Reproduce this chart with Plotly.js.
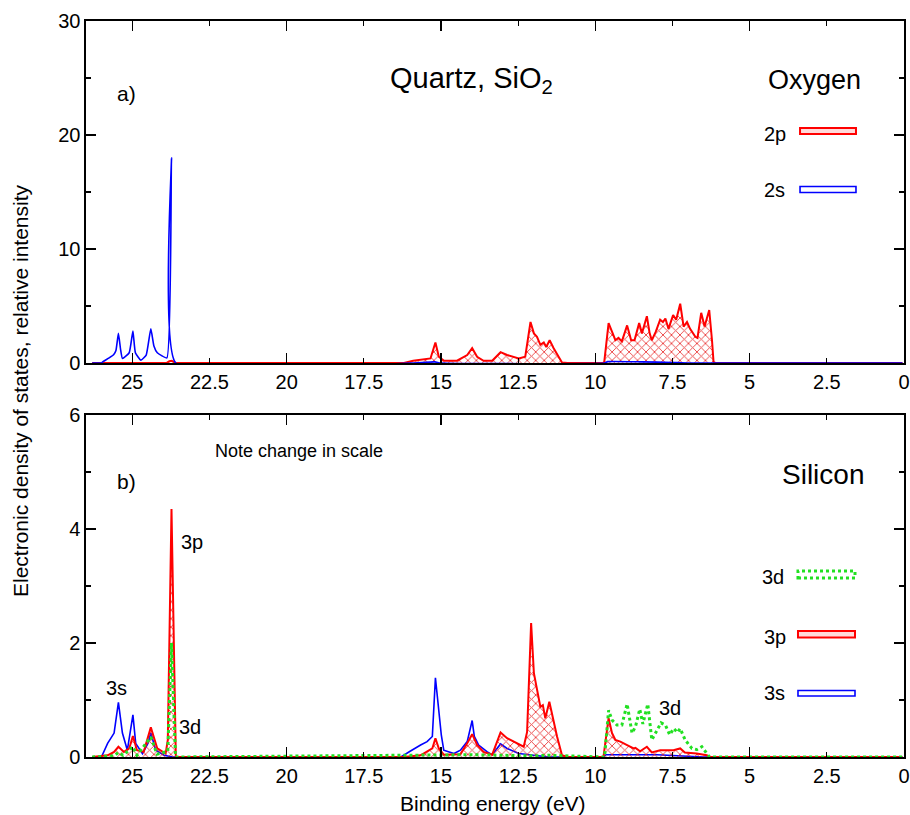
<!DOCTYPE html>
<html>
<head>
<meta charset="utf-8">
<script src="https://cdn.plot.ly/plotly-3.0.1.min.js"></script>
<style>html,body{margin:0;padding:0;background:#fff;}#chart{width:910px;height:815px;}</style>
</head>
<body>
<div id="chart"></div>
<script>
// ---- Panel a) Quartz SiO2, Oxygen ----
const o2pE = [26.3, 23.9, 23.8, 23.72, 23.6, 16.2, 15.9, 15.34, 15.18, 15.07, 14.9, 14.48, 14.15, 13.99, 13.83, 13.62, 13.34, 13.07, 12.86, 12.48, 12.27, 12.1, 11.99, 11.89, 11.78, 11.67, 11.59, 11.48, 11.35, 11.22, 11.08, 10.9, 9.75, 9.71, 9.57, 9.46, 9.35, 9.25, 9.14, 8.97, 8.84, 8.73, 8.58, 8.49, 8.33, 8.24, 8.17, 8.04, 7.9, 7.81, 7.73, 7.63, 7.48, 7.38, 7.25, 7.14, 7.03, 6.93, 6.76, 6.69, 6.57, 6.46, 6.31, 6.22, 6.17, 6.1, 0.05];
const o2pV = [0, 0, 0.15, 0.2, 0, 0, 0.2, 0.4, 1.8, 0.55, 0.2, 0.2, 0.7, 1.3, 0.55, 0.2, 0.2, 0.95, 0.7, 0.4, 0.55, 3.6, 2.6, 2.3, 1.6, 1.8, 1.4, 2.0, 1.3, 0.7, 0.05, 0, 0, 0.1, 3.5, 2.75, 2.0, 2.2, 1.9, 3.3, 2.0, 2.0, 3.5, 2.6, 4.1, 2.6, 2.0, 2.75, 3.8, 3.6, 3.9, 3.0, 4.2, 3.8, 5.2, 3.2, 3.6, 3.0, 2.3, 2.2, 4.4, 3.2, 4.65, 2.0, 0.1, 0, 0];

const o2sE = [26.3, 26.0, 25.96, 25.75, 25.6, 25.53, 25.45, 25.38, 25.32, 25.1, 24.98, 24.9, 24.72, 24.55, 24.4, 24.3, 24.19, 23.88, 23.73, 23.59, 16.0, 15.2, 15.0, 9.7, 9.6, 8.5, 7.5, 7.0, 0.05];
const o2sV = [0, 0, 0.1, 0.45, 0.75, 1.1, 2.6, 1.2, 0.4, 0.9, 2.8, 0.9, 0.25, 0.7, 3.0, 1.5, 0.9, 0.45, 18.0, 0, 0, 0.1, 0, 0, 0.12, 0.1, 0.05, 0, 0];

// ---- Panel b) Silicon ----
const si3sE = [26.3, 26.0, 25.8, 25.59, 25.45, 25.32, 25.16, 24.98, 24.89, 24.67, 24.49, 24.4, 24.24, 23.97, 23.7, 16.3, 16.0, 15.8, 15.66, 15.45, 15.28, 15.18, 15.07, 14.99, 14.91, 14.58, 14.37, 14.15, 13.99, 13.92, 13.78, 13.5, 13.34, 13.07, 12.86, 12.48, 12.0, 11.5, 9.75, 9.65, 8.0, 7.0, 6.5, 0.05];
const si3sV = [0, 0, 0.24, 0.42, 0.96, 0.42, 0.12, 0.74, 0.24, 0.06, 0.24, 0.42, 0.12, 0.03, 0, 0, 0.1, 0.17, 0.21, 0.27, 0.36, 1.39, 0.77, 0.39, 0.12, 0.06, 0.12, 0.27, 0.64, 0.36, 0.21, 0.09, 0.04, 0.23, 0.15, 0.06, 0.03, 0, 0, 0.04, 0.04, 0.02, 0, 0];

const si3pE = [26.3, 25.8, 25.59, 25.45, 25.27, 25.1, 24.98, 24.85, 24.63, 24.4, 24.19, 23.92, 23.85, 23.73, 23.59, 16.2, 15.66, 15.28, 15.18, 15.07, 14.91, 14.37, 14.15, 13.99, 13.83, 13.62, 13.34, 13.07, 12.86, 12.54, 12.32, 12.21, 12.08, 11.99, 11.89, 11.78, 11.7, 11.62, 11.49, 11.37, 11.24, 11.08, 10.9, 9.75, 9.73, 9.57, 9.46, 9.35, 9.19, 8.97, 8.76, 8.7, 8.55, 8.33, 8.17, 7.9, 7.47, 7.25, 7.1, 6.72, 6.39, 6.28, 0.05];
const si3pV = [0, 0.03, 0.09, 0.18, 0.09, 0.15, 0.37, 0.12, 0.09, 0.52, 0.15, 0.06, 0.3, 4.35, 0, 0, 0.03, 0.15, 0.33, 0.15, 0.04, 0.05, 0.24, 0.4, 0.21, 0.09, 0.04, 0.43, 0.33, 0.24, 0.18, 0.44, 2.35, 1.47, 1.18, 0.88, 0.91, 0.68, 0.97, 0.65, 0.36, 0.03, 0, 0, 0.03, 0.68, 0.42, 0.3, 0.27, 0.21, 0.15, 0.16, 0.1, 0.18, 0.08, 0.12, 0.12, 0.15, 0.08, 0.06, 0.03, 0, 0];

const si3dE = [26.3, 25.6, 25.45, 25.3, 24.98, 24.85, 24.4, 24.2, 23.85, 23.73, 23.6, 15.2, 14.0, 13.0, 12.0, 11.5, 10.0, 9.7, 9.57, 9.46, 9.3, 9.14, 8.97, 8.81, 8.7, 8.56, 8.46, 8.3, 8.17, 8.06, 7.87, 7.73, 7.59, 7.46, 7.34, 7.25, 7.09, 6.87, 6.71, 6.55, 6.39, 6.3, 0.05];
const si3dV = [0, 0.02, 0.08, 0.03, 0.18, 0.03, 0.35, 0.05, 0.1, 2.0, 0, 0.03, 0.04, 0.03, 0.02, 0.03, 0, 0, 0.82, 0.65, 0.56, 0.56, 0.93, 0.42, 0.53, 0.84, 0.58, 0.93, 0.3, 0.42, 0.6, 0.56, 0.39, 0.5, 0.43, 0.5, 0.3, 0.15, 0.13, 0.18, 0.06, 0, 0];

const xRange = [26.5, 0];
const topRange = [0, 30];
const botRange = [0, 6];

const RED = '#ff0000', BLUE = '#0000ff', GREEN = '#22e022';
const FONT = 'Liberation Sans, Arial, Helvetica, sans-serif';
const hatch = {shape: 'x', fgcolor: 'rgba(230,30,30,0.85)', bgcolor: 'rgba(255,255,255,0)', size: 6, solidity: 0.28};

const traces = [
  {x: o2pE, y: o2pV, xaxis: 'x', yaxis: 'y', type: 'scatter', mode: 'lines', fill: 'tozeroy',
   fillpattern: hatch, fillcolor: 'rgba(255,255,255,0)', line: {color: RED, width: 2}},
  {x: o2sE, y: o2sV, xaxis: 'x', yaxis: 'y', type: 'scatter', mode: 'lines', line: {color: BLUE, width: 1.6, shape: 'spline', smoothing: 0.4}},
  {x: si3sE, y: si3sV, xaxis: 'x2', yaxis: 'y2', type: 'scatter', mode: 'lines', line: {color: BLUE, width: 1.6}},
  {x: si3pE, y: si3pV, xaxis: 'x2', yaxis: 'y2', type: 'scatter', mode: 'lines', fill: 'tozeroy',
   fillpattern: hatch, fillcolor: 'rgba(255,255,255,0)', line: {color: RED, width: 2}},
  {x: si3dE, y: si3dV, xaxis: 'x2', yaxis: 'y2', type: 'scatter', mode: 'lines', line: {color: GREEN, width: 3, dash: 'dot'}},
  // carriers for long-tick overlay axes
  {x: [], y: [], xaxis: 'x3', yaxis: 'y', type: 'scatter', mode: 'lines', hoverinfo: 'skip'},
  {x: [], y: [], xaxis: 'x4', yaxis: 'y2', type: 'scatter', mode: 'lines', hoverinfo: 'skip'}
];

function xAx(anchor) {
  return {anchor: anchor, domain: [0, 1], range: xRange, autorange: false, tick0: 0, dtick: 2.5,
    ticks: 'inside', ticklen: 5, tickwidth: 1.3, tickcolor: '#000', showline: true, linecolor: '#000', linewidth: 1.6,
    mirror: 'ticks', showgrid: false, zeroline: false, tickfont: {family: FONT, size: 20, color: '#000'}};
}
function xLong(anchor, over) {
  return {anchor: anchor, overlaying: over, domain: [0, 1], range: xRange, autorange: false, tick0: 0, dtick: 5,
    ticks: 'inside', ticklen: 10, tickwidth: 1.3, tickcolor: '#000', showline: false, mirror: 'ticks',
    showgrid: false, zeroline: false, showticklabels: false};
}
function yAx(anchor, range, dtick, minor, domain) {
  return {anchor: anchor, domain: domain, range: range, autorange: false, tick0: 0, dtick: dtick,
    ticks: 'inside', ticklen: 10, tickwidth: 1.3, tickcolor: '#000', showline: true, linecolor: '#000', linewidth: 1.6,
    mirror: 'ticks', showgrid: false, zeroline: false, tickfont: {family: FONT, size: 20, color: '#000'},
    minor: {dtick: minor, ticks: 'inside', ticklen: 5, tickwidth: 1.3, tickcolor: '#000', showgrid: false}};
}

function txt(x, y, s, size, extra) {
  return Object.assign({xref: 'paper', yref: 'paper', x: x, y: y, text: s, showarrow: false,
    xanchor: 'center', yanchor: 'middle', font: {family: FONT, size: size, color: '#000'}}, extra || {});
}

const annotations = [
  txt(0.050, 0.902, 'a)', 21),
  txt(0.4707, 0.9198, 'Quartz, SiO<sub>2</sub>', 29),
  txt(0.891, 0.920, 'Oxygen', 27),
  txt(0.842, 0.8465, '2p', 20),
  txt(0.842, 0.7704, '2s', 20),
  txt(0.050, 0.375, 'b)', 21),
  txt(0.2604, 0.4158, 'Note change in scale', 18),
  txt(0.901, 0.3845, 'Silicon', 28),
  txt(0.840, 0.2446, '3d', 20),
  txt(0.842, 0.163, '3p', 20),
  txt(0.842, 0.087, '3s', 20),
  txt(0.129, 0.2925, '3p', 20),
  txt(0.0375, 0.0933, '3s', 20),
  txt(0.127, 0.0408, '3d', 20),
  txt(0.714, 0.0666, '3d', 20),
  txt(0.4976, -0.0625, 'Binding energy (eV)', 21),
  txt(-0.0807, 0.4986, 'Electronic density of states, relative intensity', 21, {textangle: -90})
];

const shapes = [
  {type: 'rect', xref: 'paper', yref: 'paper', x0: 0.8729, x1: 0.9413, y0: 0.8465, y1: 0.8546,
   line: {color: RED, width: 2}, fillcolor: 'rgba(255,150,150,0.35)'},
  {type: 'rect', xref: 'paper', yref: 'paper', x0: 0.8729, x1: 0.9413, y0: 0.767, y1: 0.7751,
   line: {color: BLUE, width: 1.6}, fillcolor: 'rgba(255,255,255,0)'},
  {type: 'rect', xref: 'paper', yref: 'paper', x0: 0.8704, x1: 0.9401, y0: 0.2432, y1: 0.2527,
   line: {color: GREEN, width: 3, dash: 'dot'}, fillcolor: 'rgba(255,255,255,0)'},
  {type: 'rect', xref: 'paper', yref: 'paper', x0: 0.8704, x1: 0.9401, y0: 0.1624, y1: 0.1712,
   line: {color: RED, width: 2}, fillcolor: 'rgba(255,150,150,0.35)'},
  {type: 'rect', xref: 'paper', yref: 'paper', x0: 0.8704, x1: 0.9401, y0: 0.0829, y1: 0.0904,
   line: {color: BLUE, width: 1.6}, fillcolor: 'rgba(255,255,255,0)'}
];

const layout = {
  width: 910, height: 815,
  margin: {l: 86, r: 6, t: 21, b: 58},
  paper_bgcolor: '#fff', plot_bgcolor: '#fff',
  showlegend: false,
  xaxis: xAx('y'),
  yaxis: yAx('x', topRange, 10, 5, [0.5353, 1]),
  xaxis2: xAx('y2'),
  yaxis2: yAx('x2', botRange, 2, 1, [0, 0.4647]),
  xaxis3: xLong('y', 'x'),
  xaxis4: xLong('y2', 'x2'),
  annotations: annotations,
  shapes: shapes
};

Plotly.newPlot('chart', traces, layout, {staticPlot: true, displayModeBar: false});
</script>
</body>
</html>
